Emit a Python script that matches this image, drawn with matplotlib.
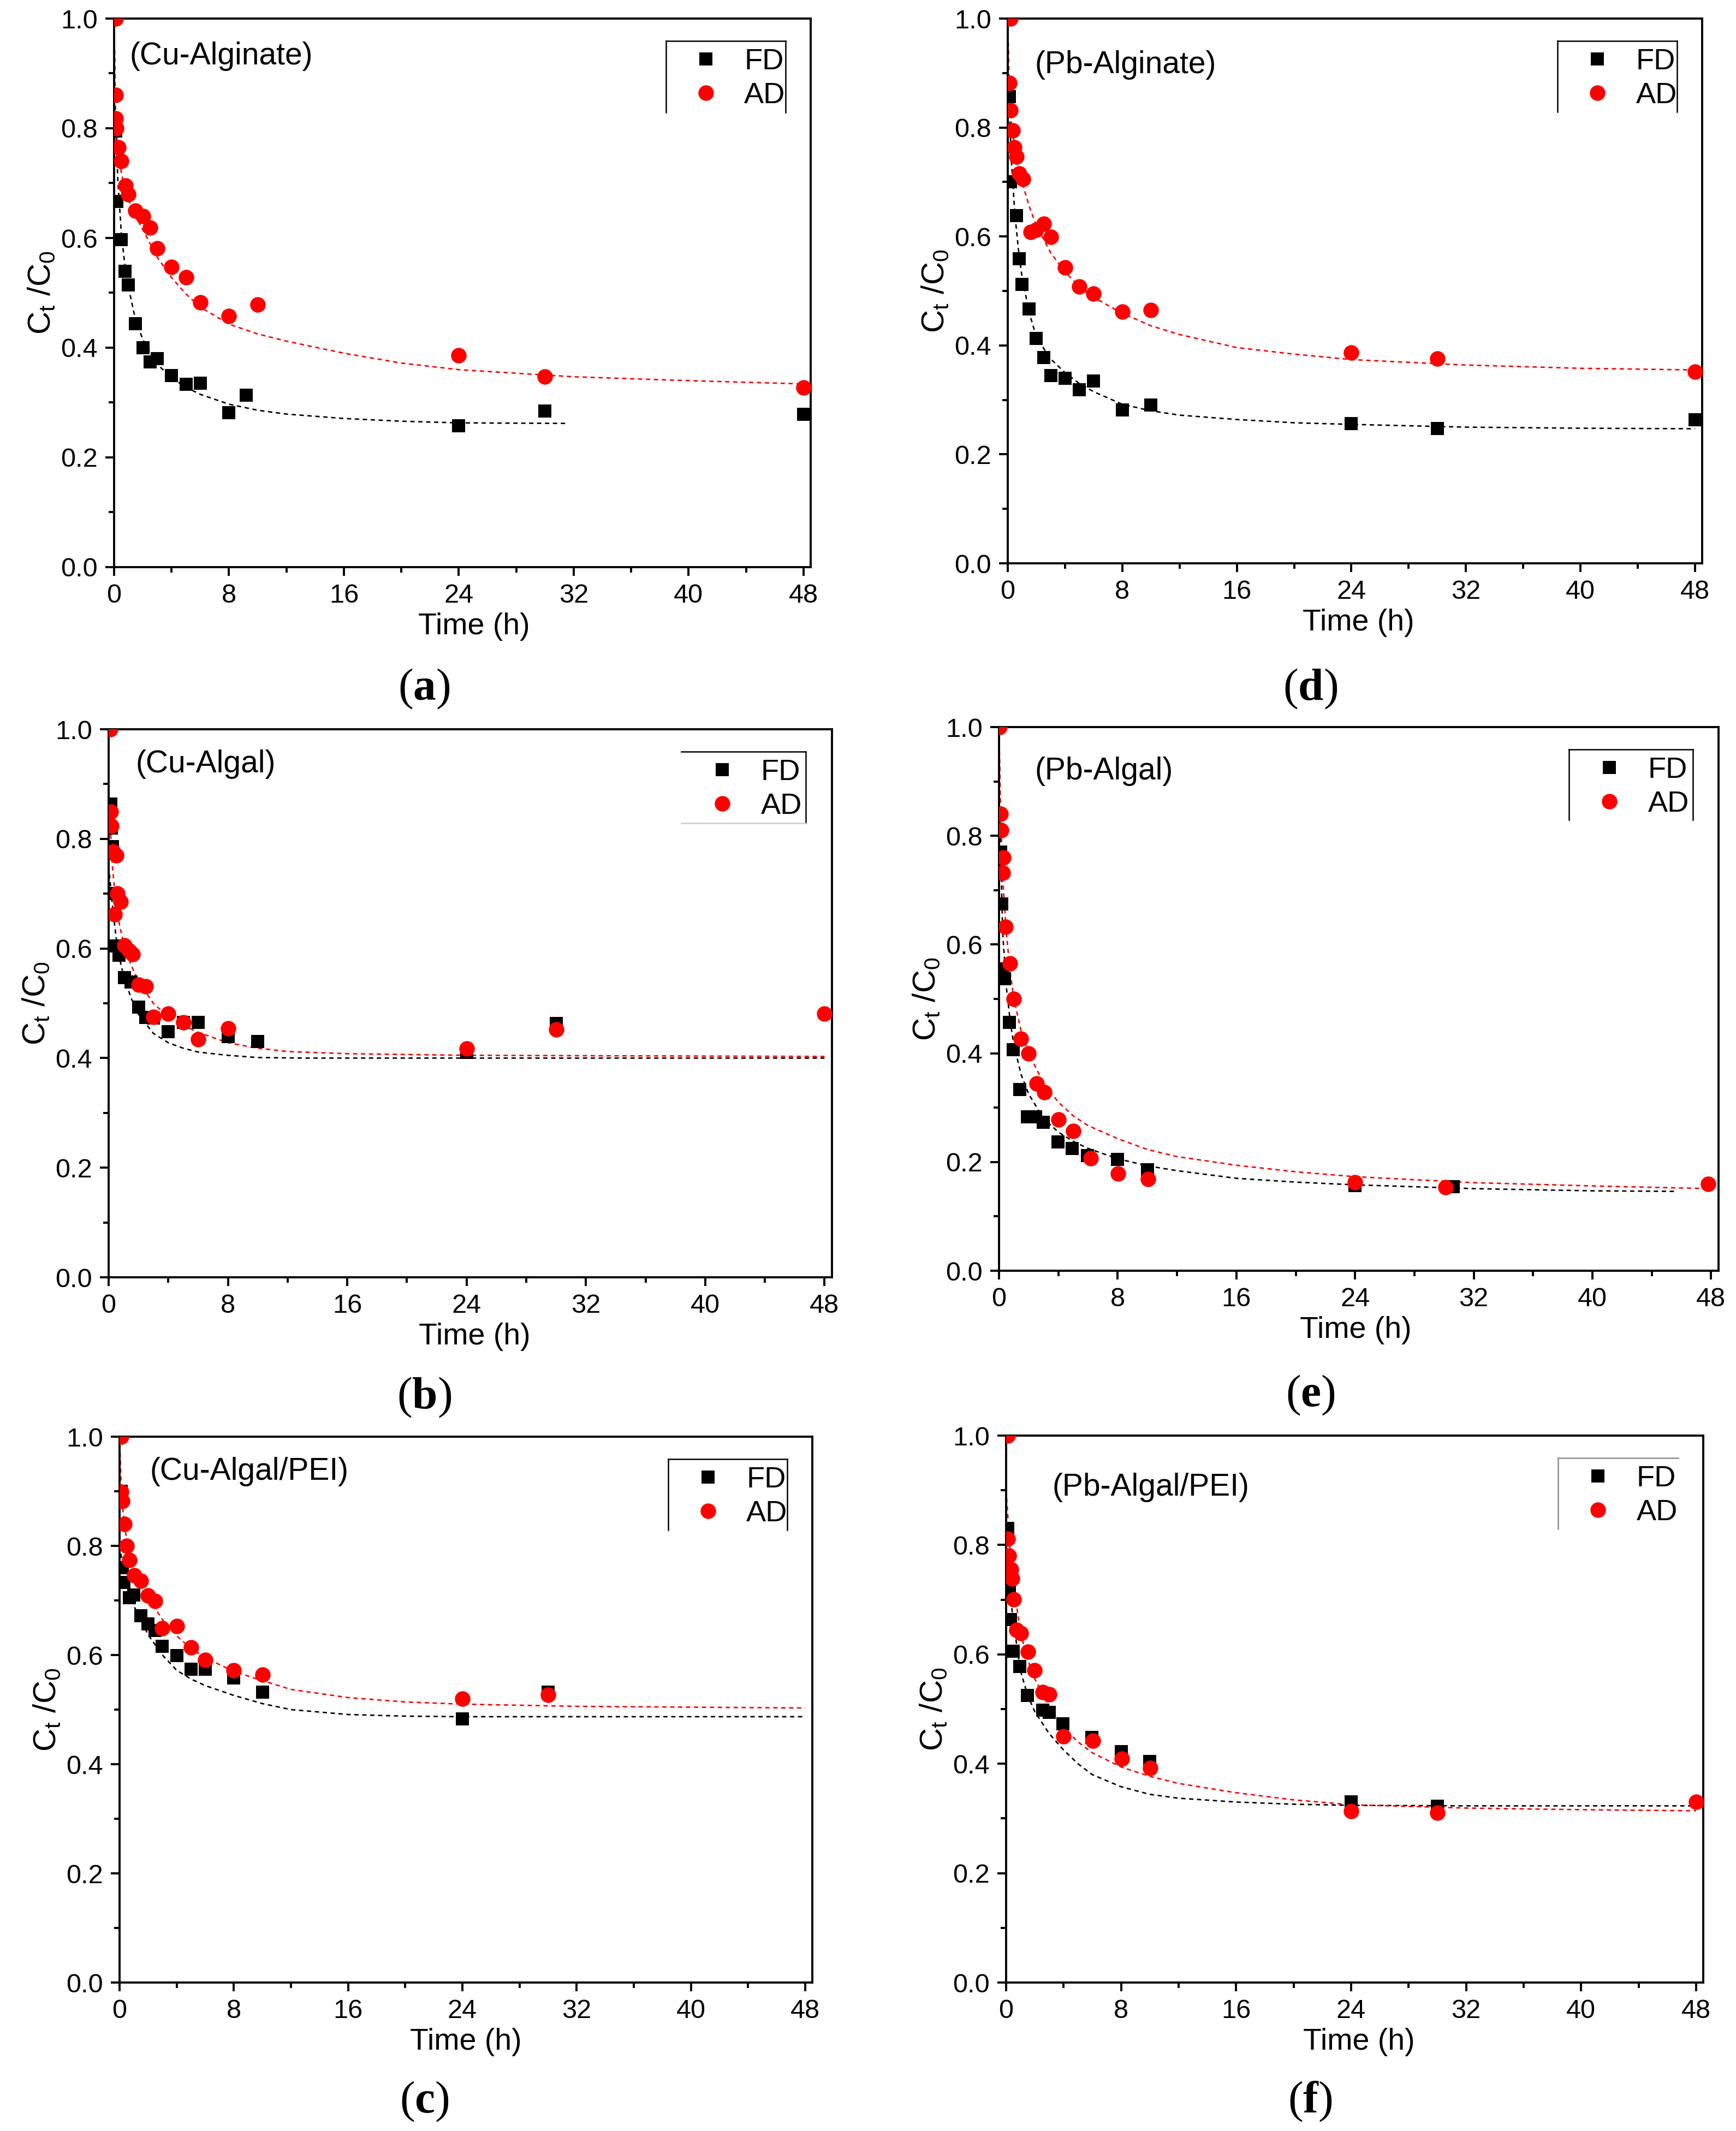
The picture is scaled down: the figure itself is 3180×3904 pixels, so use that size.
import matplotlib
matplotlib.use("Agg")
import matplotlib.pyplot as plt
from matplotlib.lines import Line2D

plt.rcParams['font.family'] = ['Liberation Sans', 'DejaVu Sans']
plt.rcParams['mathtext.fontset'] = 'custom'
plt.rcParams['mathtext.rm'] = 'Liberation Serif'
plt.rcParams['mathtext.bf'] = 'Liberation Serif:bold'

# ---------------- data ----------------
# (a) Cu-Alginate
a_fd_t = [0.1, 0.2, 0.5, 0.75, 1.0, 1.5, 2, 2.5, 3, 4, 5, 6, 8, 9.2, 24, 30, 48]
a_fd_y = [0.795, 0.667, 0.597, 0.539, 0.514, 0.444, 0.40, 0.374, 0.38, 0.349, 0.333, 0.335, 0.282, 0.313, 0.258, 0.285, 0.279]
a_ad_t = [0.1, 0.1, 0.12, 0.15, 0.3, 0.5, 0.8, 1.0, 1.5, 2, 2.5, 3, 4, 5, 6, 8, 10, 24, 30, 48]
a_ad_y = [1.0, 0.861, 0.818, 0.80, 0.765, 0.74, 0.696, 0.68, 0.65, 0.64, 0.619, 0.581, 0.547, 0.528, 0.483, 0.458, 0.479, 0.386, 0.347, 0.327]
a_fitfd_t = [0, 0.1, 0.25, 0.5, 0.75, 1, 1.5, 2, 3, 4, 5, 6, 8, 10, 12, 16, 20, 24, 31.5]
a_fitfd_y = [1.0, 0.82, 0.71, 0.61, 0.55, 0.51, 0.45, 0.415, 0.37, 0.345, 0.328, 0.315, 0.297, 0.286, 0.279, 0.271, 0.266, 0.263, 0.262]
a_fitad_t = [0, 0.1, 0.25, 0.5, 0.75, 1, 1.5, 2, 3, 4, 5, 6, 8, 10, 12, 16, 20, 24, 32, 40, 48]
a_fitad_y = [1.0, 0.82, 0.76, 0.72, 0.69, 0.67, 0.64, 0.615, 0.565, 0.528, 0.498, 0.474, 0.443, 0.425, 0.412, 0.39, 0.372, 0.36, 0.347, 0.34, 0.334]

# (d) Pb-Alginate
d_fd_t = [0.1, 0.2, 0.6, 0.8, 1.0, 1.5, 2, 2.5, 3, 4, 5, 6, 8, 10, 24, 30, 48]
d_fd_y = [0.857, 0.70, 0.638, 0.559, 0.512, 0.467, 0.413, 0.378, 0.345, 0.340, 0.319, 0.335, 0.282, 0.291, 0.257, 0.247, 0.264]
d_ad_t = [0.2, 0.1, 0.2, 0.35, 0.45, 0.6, 0.8, 1.05, 1.6, 2, 2.5, 3, 4, 5, 6, 8, 10, 24, 30, 48]
d_ad_y = [1.0, 0.882, 0.832, 0.795, 0.764, 0.746, 0.715, 0.705, 0.608, 0.612, 0.623, 0.599, 0.543, 0.508, 0.495, 0.462, 0.465, 0.387, 0.376, 0.352]
d_fitfd_t = [0, 0.1, 0.25, 0.5, 0.75, 1, 1.5, 2, 3, 4, 5, 6, 8, 10, 12, 16, 20, 24, 32, 40, 48]
d_fitfd_y = [1.0, 0.84, 0.74, 0.64, 0.575, 0.525, 0.46, 0.415, 0.375, 0.35, 0.33, 0.315, 0.292, 0.28, 0.272, 0.264, 0.258, 0.255, 0.25, 0.248, 0.247]
d_fitad_t = [0, 0.1, 0.25, 0.5, 0.75, 1, 1.5, 2, 3, 4, 5, 6, 8, 10, 12, 16, 20, 24, 32, 40, 48]
d_fitad_y = [1.0, 0.88, 0.81, 0.76, 0.725, 0.70, 0.655, 0.62, 0.57, 0.535, 0.508, 0.488, 0.459, 0.436, 0.42, 0.396, 0.384, 0.374, 0.364, 0.358, 0.355]

# (b) Cu-Algal
b_fd_t = [0.15, 0.2, 0.25, 0.3, 0.4, 0.7, 1.05, 1.5, 2, 2.5, 3, 4, 5, 6, 8, 10, 24, 30]
b_fd_y = [0.864, 0.82, 0.786, 0.70, 0.605, 0.588, 0.547, 0.539, 0.493, 0.474, 0.473, 0.448, 0.465, 0.465, 0.439, 0.43, 0.41, 0.463]
b_ad_t = [0.1, 0.15, 0.2, 0.3, 0.5, 0.4, 0.6, 0.8, 1.05, 1.4, 1.6, 2, 2.5, 3, 4, 5, 6, 8, 24, 30, 48]
b_ad_y = [1.0, 0.85, 0.824, 0.777, 0.77, 0.662, 0.70, 0.685, 0.606, 0.596, 0.59, 0.534, 0.531, 0.475, 0.481, 0.465, 0.434, 0.454, 0.417, 0.452, 0.481]
b_fitfd_t = [0, 0.25, 0.5, 0.75, 1, 1.5, 2, 3, 4, 5, 6, 8, 10, 13, 48]
b_fitfd_y = [0.75, 0.68, 0.62, 0.58, 0.55, 0.51, 0.48, 0.445, 0.428, 0.418, 0.411, 0.405, 0.401, 0.40, 0.40]
b_fitad_t = [0, 0.25, 0.5, 0.75, 1, 1.5, 2, 3, 4, 5, 6, 8, 10, 12, 16, 24, 48]
b_fitad_y = [0.88, 0.75, 0.68, 0.64, 0.61, 0.57, 0.54, 0.50, 0.475, 0.46, 0.447, 0.428, 0.418, 0.412, 0.408, 0.405, 0.403]

# (e) Pb-Algal
e_fd_t = [0.11, 0.19, 0.25, 0.37, 0.71, 0.97, 1.41, 1.93, 2.45, 2.97, 3.98, 4.94, 5.95, 8, 10, 24, 30.6]
e_fd_y = [0.77, 0.675, 0.555, 0.537, 0.457, 0.407, 0.333, 0.283, 0.283, 0.273, 0.237, 0.225, 0.212, 0.205, 0.186, 0.157, 0.155]
e_ad_t = [0.05, 0.1, 0.15, 0.3, 0.26, 0.45, 0.74, 1.0, 1.49, 2.0, 2.53, 3.05, 4.0, 5.0, 6.17, 8.03, 10.04, 24, 30.1, 47.8]
e_ad_y = [1.0, 0.84, 0.81, 0.76, 0.732, 0.633, 0.565, 0.50, 0.427, 0.40, 0.344, 0.328, 0.278, 0.257, 0.207, 0.179, 0.169, 0.163, 0.154, 0.16]
e_fitfd_t = [0, 0.1, 0.25, 0.5, 0.75, 1, 1.5, 2, 3, 4, 5, 6, 8, 10, 12, 16, 20, 24, 32, 40, 45.5]
e_fitfd_y = [1.0, 0.78, 0.62, 0.52, 0.46, 0.415, 0.36, 0.325, 0.28, 0.255, 0.238, 0.225, 0.206, 0.193, 0.184, 0.17, 0.163, 0.158, 0.151, 0.147, 0.146]
e_fitad_t = [0, 0.1, 0.25, 0.5, 0.75, 1, 1.5, 2, 3, 4, 5, 6, 8, 10, 12, 16, 20, 24, 32, 40, 48]
e_fitad_y = [1.0, 0.85, 0.72, 0.62, 0.55, 0.50, 0.44, 0.40, 0.345, 0.31, 0.285, 0.267, 0.243, 0.223, 0.21, 0.194, 0.182, 0.173, 0.162, 0.156, 0.151]

# (c) Cu-Algal/PEI
c_fd_t = [0.1, 0.2, 0.3, 0.7, 1.0, 1.5, 2, 2.5, 3, 4, 5, 6, 8, 10, 24, 30]
c_fd_y = [0.90, 0.76, 0.733, 0.705, 0.71, 0.672, 0.657, 0.645, 0.616, 0.599, 0.574, 0.574, 0.558, 0.532, 0.483, 0.532]
c_ad_t = [0.1, 0.1, 0.2, 0.35, 0.5, 0.7, 1.05, 1.5, 2, 2.5, 3, 4, 5, 6, 8, 10, 24, 30]
c_ad_y = [1.0, 0.899, 0.882, 0.84, 0.80, 0.774, 0.746, 0.736, 0.709, 0.699, 0.649, 0.653, 0.614, 0.591, 0.572, 0.564, 0.52, 0.527]
c_fitfd_t = [0, 0.25, 0.5, 1, 1.5, 2, 3, 4, 5, 6, 8, 10, 12, 16, 20, 24, 48]
c_fitfd_y = [0.80, 0.76, 0.735, 0.69, 0.665, 0.637, 0.60, 0.572, 0.556, 0.544, 0.526, 0.511, 0.50, 0.491, 0.488, 0.487, 0.487]
c_fitad_t = [0, 0.1, 0.25, 0.5, 1, 1.5, 2, 3, 4, 5, 6, 8, 10, 12, 16, 20, 24, 32, 48]
c_fitad_y = [1.0, 0.92, 0.86, 0.81, 0.76, 0.73, 0.705, 0.665, 0.635, 0.612, 0.595, 0.57, 0.553, 0.537, 0.522, 0.514, 0.51, 0.506, 0.503]

# (f) Pb-Algal/PEI
f_fd_t = [0.11, 0.23, 0.31, 0.5, 0.96, 1.49, 2.53, 2.99, 3.95, 5.98, 8.0, 10.0, 24.0, 30.0]
f_fd_y = [0.83, 0.718, 0.664, 0.606, 0.578, 0.525, 0.498, 0.494, 0.473, 0.448, 0.422, 0.404, 0.33, 0.322]
f_ad_t = [0.1, 0.1, 0.2, 0.35, 0.42, 0.54, 0.73, 1.03, 1.53, 1.99, 2.53, 2.99, 3.98, 6.02, 8.05, 10.04, 24, 30, 48]
f_ad_y = [1.0, 0.811, 0.78, 0.755, 0.739, 0.701, 0.645, 0.639, 0.605, 0.571, 0.531, 0.527, 0.45, 0.442, 0.409, 0.392, 0.313, 0.31, 0.33]
f_fitfd_t = [0, 0.25, 0.5, 1, 1.5, 2, 3, 4, 5, 6, 8, 10, 12, 16, 20, 24, 32, 48]
f_fitfd_y = [0.80, 0.72, 0.66, 0.57, 0.525, 0.495, 0.455, 0.425, 0.40, 0.38, 0.358, 0.344, 0.337, 0.33, 0.326, 0.324, 0.323, 0.323]
f_fitad_t = [0, 0.25, 0.5, 1, 1.5, 2, 3, 4, 5, 6, 8, 10, 12, 16, 20, 24, 32, 40, 48]
f_fitad_y = [0.90, 0.80, 0.73, 0.64, 0.59, 0.555, 0.505, 0.465, 0.44, 0.42, 0.394, 0.377, 0.364, 0.347, 0.334, 0.325, 0.319, 0.316, 0.314]

panel_titles = ["(Cu-Alginate)", "(Pb-Alginate)", "(Cu-Algal)", "(Pb-Algal)", "(Cu-Algal/PEI)", "(Pb-Algal/PEI)"]
panel_letters = ["a", "d", "b", "e", "c", "f"]
series_labels = ["FD", "AD"]
x_ticks = [0, 8, 16, 24, 32, 40, 48]
y_ticks = [0.0, 0.2, 0.4, 0.6, 0.8, 1.0]

# ---------------- layout (pixels of 3180 x 3904) ----------------
W, H = 3180, 3904
boxes = [  # left, right, top, bottom
    (209, 1485, 34, 1039),
    (1846, 3118, 34, 1032),
    (199, 1524, 1336, 2340),
    (1830, 3148, 1332, 2328),
    (219, 1488, 2632, 3632),
    (1843, 3120, 2630, 3632),
]
title_pos = [(0.022, 0.931), (0.039, 0.915), (0.037, 0.936), (0.050, 0.919), (0.044, 0.936), (0.066, 0.905)]
xlabel_x = [0.517, 0.505, 0.506, 0.496, 0.50, 0.506]
letter_pos = [(777, 1262), (2400, 1262), (777, 2560), (2400, 2556), (777, 3850), (2400, 3850)]
legend_edges = [
    ("tlr", "black"), ("tlr", "black"), ("trb", "black"),
    ("tlr", "black"), ("tlr", "black"), ("tl", "0.55"),
]

data = [
    (a_fd_t, a_fd_y, a_ad_t, a_ad_y, a_fitfd_t, a_fitfd_y, a_fitad_t, a_fitad_y),
    (d_fd_t, d_fd_y, d_ad_t, d_ad_y, d_fitfd_t, d_fitfd_y, d_fitad_t, d_fitad_y),
    (b_fd_t, b_fd_y, b_ad_t, b_ad_y, b_fitfd_t, b_fitfd_y, b_fitad_t, b_fitad_y),
    (e_fd_t, e_fd_y, e_ad_t, e_ad_y, e_fitfd_t, e_fitfd_y, e_fitad_t, e_fitad_y),
    (c_fd_t, c_fd_y, c_ad_t, c_ad_y, c_fitfd_t, c_fitfd_y, c_fitad_t, c_fitad_y),
    (f_fd_t, f_fd_y, f_ad_t, f_ad_y, f_fitfd_t, f_fitfd_y, f_fitad_t, f_fitad_y),
]

RED = "#ff0000"
fig = plt.figure(figsize=(W / 100, H / 100), dpi=100)

for i, (box, d) in enumerate(zip(boxes, data)):
    L, R, T, B = box
    ax = fig.add_axes([L / W, 1 - B / H, (R - L) / W, (B - T) / H])
    fdt, fdy, adt, ady, ffdt, ffdy, fadt, fady = d
    dash = (0, (3, 2.5))
    ax.plot(ffdt, ffdy, color="black", lw=1.9, linestyle=dash, zorder=2)
    ax.plot(fadt, fady, color=RED, lw=1.9, linestyle=dash, zorder=2)
    ax.plot(fdt, fdy, linestyle="none", marker="s", ms=17.3, mew=0, color="black",
            label=series_labels[0], zorder=3)
    ax.plot(adt, ady, linestyle="none", marker="o", ms=20.5, mew=0, color=RED,
            label=series_labels[1], zorder=4)

    ax.set_xlim(0, 48.5)
    ax.set_ylim(0, 1.0)
    ax.set_xticks(x_ticks)
    ax.set_xticks([4, 12, 20, 28, 36, 44], minor=True)
    ax.set_yticks(y_ticks)
    ax.set_yticks([0.1, 0.3, 0.5, 0.7, 0.9], minor=True)
    ax.set_yticklabels(["%.1f" % v for v in y_ticks])
    ax.tick_params(which="both", direction="out", top=False, right=False,
                   width=2.8, labelsize=35, pad=10)
    ax.tick_params(which="major", length=11.5)
    ax.tick_params(which="minor", length=7)
    for s in ax.spines.values():
        s.set_linewidth(2.8)

    ax.set_xlabel("Time (h)", fontsize=40, labelpad=6)
    ax.xaxis.label.set_x(xlabel_x[i])
    ax.set_ylabel(r"C$_\mathregular{t}$ /C$_\mathregular{0}$", fontsize=42, labelpad=6)

    tx, ty = title_pos[i]
    ax.text(tx, ty, panel_titles[i], transform=ax.transAxes, fontsize=41,
            ha="left", va="center")

    ax.legend(loc="upper left", bbox_to_anchor=(0.828, 0.946), frameon=False,
              fontsize=39, borderpad=0, borderaxespad=0, handlelength=1.0,
              handletextpad=0.8, labelspacing=0.22, numpoints=1)
    edges, ecol = legend_edges[i]
    bl, br, bt, bb = 0.792, 0.964, 0.959, 0.829
    segs = {"t": ([bl, br], [bt, bt]), "l": ([bl, bl], [bt, bb]),
            "r": ([br, br], [bt, bb]), "b": ([bl, br], [bb, bb])}
    for e in edges:
        xs, ys = segs[e]
        col = "0.8" if (e == "b") else ecol
        ax.add_line(Line2D(xs, ys, transform=ax.transAxes, color=col, lw=1.8,
                           clip_on=False))

    lx, ly = letter_pos[i]
    fig.text(lx / W, 1 - ly / H, r"($\mathbf{%s}$)" % panel_letters[i],
             fontsize=60, family="Liberation Serif", ha="center", va="center")

fig.savefig("out.png", dpi=100)
